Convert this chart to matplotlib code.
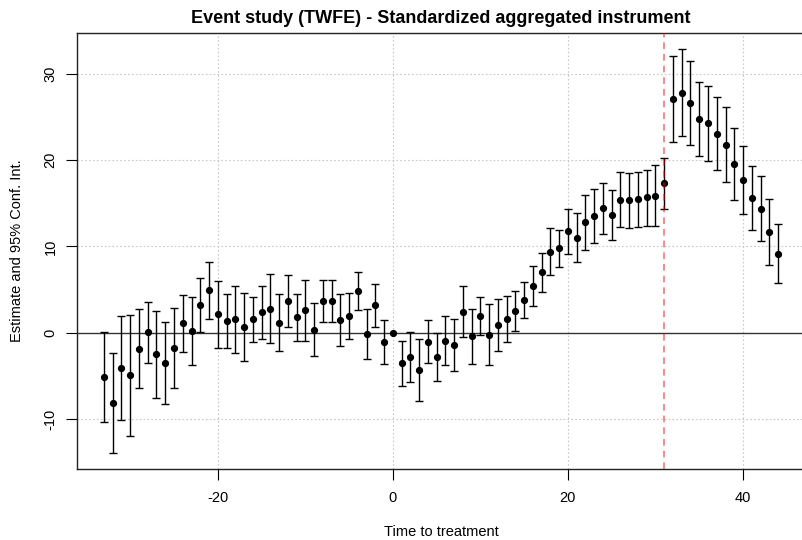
import numpy as np
import matplotlib
matplotlib.use("Agg")
import matplotlib.pyplot as plt

plt.rcParams['font.family'] = ['Liberation Sans', 'DejaVu Sans']
plt.rcParams['axes.unicode_minus'] = False

# time to treatment, point estimates and 95% CI bounds
periods = list(range(-33, 45))
estimate = [-5.06, -8.1, -4.06, -4.87, -1.85, 0.08, -2.47, -3.48, -1.74, 1.08,
            0.23, 3.2, 4.94, 2.16, 1.39, 1.58, 0.62, 1.62, 2.43, 2.78,
            1.16, 3.7, 1.81, 2.62, 0.35, 3.7, 3.7, 1.5, 1.93, 4.87,
            -0.12, 3.2, -1.08, 0.0, -3.55, -2.82, -4.29, -1.04, -2.82, -0.93,
            -1.43, 2.43, -0.42, 1.93, -0.23, 0.93, 1.6, 2.53, 3.78, 5.42,
            6.99, 9.38, 9.77, 11.74, 11.0, 12.82, 13.52, 14.44, 13.59, 15.4,
            15.33, 15.45, 15.76, 15.9, 17.34, 27.1, 27.76, 26.56, 24.75, 24.25,
            23.05, 21.78, 19.54, 17.69, 15.56, 14.36, 11.66, 9.15]
ci_low = [-10.3, -13.9, -10.1, -11.9, -6.37, -3.44, -7.53, -8.27, -6.37, -2.2,
          -3.78, 0.08, 1.58, -1.7, -1.78, -2.32, -3.28, -1.04, -0.66, -1.23,
          -2.16, 0.7, -0.89, -0.89, -2.7, 1.24, 1.24, -1.5, -0.73, 2.63,
          -3.0, 0.73, -3.59, np.nan, -6.14, -5.72, -7.92, -3.55, -5.6, -3.75,
          -4.44, -0.54, -3.59, -0.31, -3.78, -2.08, -1.04, 0.19, 1.7, 3.13,
          4.77, 6.68, 7.68, 9.07, 8.19, 9.61, 10.39, 11.5, 10.7, 12.2,
          12.1, 12.28, 12.4, 12.4, 14.3, 22.1, 22.74, 21.7, 20.47, 19.85,
          18.8, 17.49, 15.37, 13.78, 11.85, 10.66, 7.84, 5.75]
ci_high = [0.15, -2.35, 1.97, 2.12, 2.74, 3.55, 2.58, 1.31, 2.93, 4.4,
           4.2, 6.3, 8.22, 5.98, 4.48, 5.4, 4.56, 4.2, 5.4, 6.8,
           4.48, 6.68, 4.52, 6.06, 3.4, 6.14, 6.14, 4.48, 4.63, 7.03,
           2.74, 5.64, 1.43, np.nan, -0.97, 0.12, -0.66, 1.47, 0.0, 1.93,
           1.62, 5.4, 2.74, 4.2, 3.28, 3.9, 4.25, 4.88, 5.87, 7.72,
           9.23, 12.1, 11.9, 14.29, 13.87, 15.99, 16.6, 17.37, 16.5, 18.65,
           18.5, 18.6, 18.9, 19.4, 20.3, 32.05, 32.85, 31.47, 29.07, 28.6,
           27.3, 26.1, 23.67, 21.62, 19.27, 18.15, 15.48, 12.59]
marked_period = 31

x = np.array(periods)
y = np.array(estimate)
lo = np.array(ci_low)
hi = np.array(ci_high)

fig = plt.figure(figsize=(8.03, 5.4), dpi=100)
ax = fig.add_axes([77 / 803, 71 / 540, 728 / 803, 436 / 540])

ax.set_xlim(-36.08, 47.08)
ax.set_ylim(-15.77, 34.72)

xt = [-20, 0, 20, 40]
yt = [-10, 0, 10, 20, 30]
for v in xt:
    ax.axvline(v, color="#c8c8c8", lw=0.8, ls=(0, (1.5, 2)), zorder=0)
for v in yt:
    if v != 0:
        ax.axhline(v, color="#c8c8c8", lw=0.8, ls=(0, (1.5, 2)), zorder=0)
ax.axhline(0, color="#333333", lw=1.0, zorder=1)

ok = ~np.isnan(lo)
ax.errorbar(x[ok], y[ok], yerr=[y[ok] - lo[ok], hi[ok] - y[ok]], fmt="none",
            ecolor="black", elinewidth=1.0, capsize=2.8, capthick=1.0, zorder=2)
ax.plot(x, y, "o", color="black", ms=4.2, zorder=3)

ax.axvline(marked_period, color="red", alpha=0.55, lw=1.2, ls=(0, (4, 3)), zorder=4)

ax.set_xticks(xt)
ax.set_yticks(yt)
ax.tick_params(axis="both", direction="out", length=8, width=0.8, labelsize=10.5)
ax.tick_params(axis="x", pad=8)
ax.tick_params(axis="y", pad=6)
plt.setp(ax.get_yticklabels(), rotation=90, va="center")
for s in ax.spines.values():
    s.set_linewidth(1.0)
    s.set_color("#222222")

ax.set_title("Event study (TWFE) - Standardized aggregated instrument",
             fontsize=13, fontweight="bold", pad=7)
ax.set_xlabel("Time to treatment", fontsize=10.5, labelpad=14)
ax.set_ylabel("Estimate and 95% Conf. Int.", fontsize=10.5, labelpad=14)

fig.savefig("out.png", dpi=100)
